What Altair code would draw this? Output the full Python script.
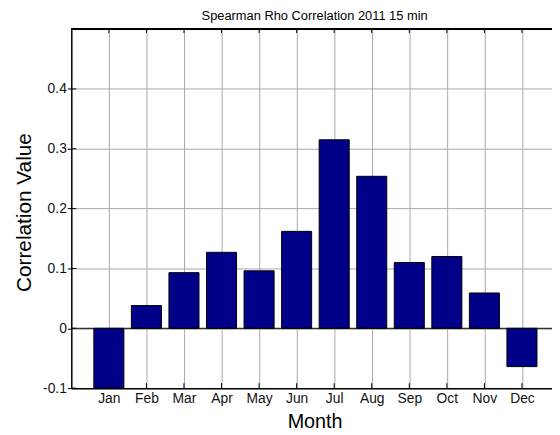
import altair as alt
import pandas as pd

months = ["Jan", "Feb", "Mar", "Apr", "May", "Jun", "Jul", "Aug", "Sep", "Oct", "Nov", "Dec"]
month_idx = [1, 2, 3, 4, 5, 6, 7, 8, 9, 10, 11, 12]
rho = [-0.1, 0.038, 0.093, 0.127, 0.096, 0.162, 0.315, 0.254, 0.110, 0.120, 0.059, -0.064]
y_ticks = [-0.1, 0, 0.1, 0.2, 0.3, 0.4]

df = pd.DataFrame({"m": month_idx, "name": months, "rho": rho})
ydf = pd.DataFrame({"t": y_ticks})

W, H = 486, 363
xscale = alt.Scale(domain=[0, 12.8], nice=False, zero=False)
yscale = alt.Scale(domain=[-0.1, 0.5], nice=False, zero=False)

label_expr = "[" + ",".join(f"'{m}'" for m in months) + "][datum.value-1]"
ylabel_expr = ("datum.value == 0 ? '0' : (datum.value < 0 ? '-' + format(-datum.value, '.1f') "
               ": format(datum.value, '.1f'))")

FONT = "Liberation Sans"

xaxis = alt.Axis(values=month_idx, labelExpr=label_expr, title="Month",
                 orient="bottom", grid=True, gridColor="#a8a8a8", gridWidth=1,
                 ticks=False, domainColor="#000000", domainWidth=1.5, labelFont=FONT,
                 labelFontSize=14, labelColor="#111111", labelPadding=4,
                 titleFont=FONT, titleFontSize=20, titleFontWeight="normal",
                 titleColor="#000000", titleX=246, titleY=40, titleBaseline="alphabetic",
                 titleAlign="center")
yaxis = alt.Axis(values=y_ticks, title="Correlation Value", grid=True,
                 gridColor="#a8a8a8", gridWidth=1, ticks=True, tickSize=4, tickColor="#000000",
                 domainColor="#000000", domainWidth=1.5, labelExpr=ylabel_expr,
                 labelFont=FONT, labelFontSize=14, labelColor="#111111",
                 labelPadding=1, titleFont=FONT, titleFontSize=21,
                 titleFontWeight="normal", titleColor="#000000", titleX=-41, titleY=185,
                 titleBaseline="alphabetic", titleAlign="center")

base = alt.Chart(df)

bars = base.transform_calculate(
    x0="datum.m - 0.4", x1="datum.m + 0.4"
).mark_bar(color="#000088", stroke="#000000", strokeWidth=1, clip=True).encode(
    x=alt.X("x0:Q", scale=xscale, axis=xaxis),
    x2="x1:Q",
    y=alt.Y("rho:Q", scale=yscale, axis=yaxis),
    y2=alt.datum(0),
)

zero_line = alt.Chart(ydf).transform_filter("datum.t == 0").mark_rule(color="#000000", strokeWidth=1).encode(
    y=alt.Y("t:Q", scale=yscale, axis=yaxis),
    x=alt.value(0), x2=alt.value(W),
)

top_border = alt.Chart(df).mark_rule(color="#000000", strokeWidth=1.5).encode(
    y=alt.value(0), x=alt.value(0), x2=alt.value(W + 10),
)

x_ticks_bottom = base.mark_rule(color="#000000", strokeWidth=1).encode(
    x=alt.X("m:Q", scale=xscale, axis=xaxis), y=alt.value(H), y2=alt.value(H - 5),
)
x_ticks_top = base.mark_rule(color="#000000", strokeWidth=1).encode(
    x=alt.X("m:Q", scale=xscale, axis=xaxis), y=alt.value(0), y2=alt.value(4),
)
y_tick_marks = alt.Chart(ydf).mark_rule(color="#000000", strokeWidth=1).encode(
    y=alt.Y("t:Q", scale=yscale, axis=yaxis), x=alt.value(0), x2=alt.value(5),
)

chart = alt.layer(bars, zero_line, x_ticks_bottom, x_ticks_top, y_tick_marks, top_border).properties(
    width=W, height=H,
    title=alt.Title("Spearman Rho Correlation 2011 15 min", font=FONT,
                    fontSize=13, fontWeight="normal", color="#000000", offset=5.5,
                    anchor="middle", dx=3),
    autosize=alt.AutoSizeParams(type="none"),
    padding={"left": 64, "top": 19, "right": 0, "bottom": 42},
).configure_view(stroke=None).configure(background="#ffffff")

chart.save("out.html", embed_options={"renderer": "svg", "actions": False})
